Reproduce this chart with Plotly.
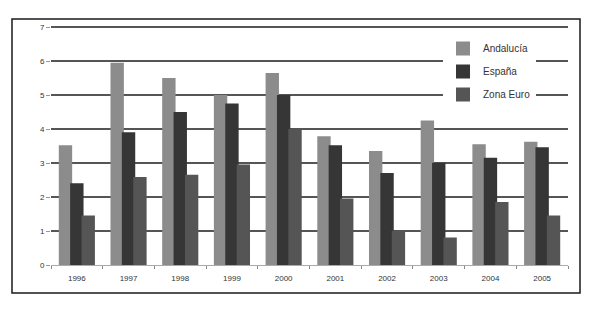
import plotly.graph_objects as go

years = ["1996", "1997", "1998", "1999", "2000", "2001", "2002", "2003", "2004", "2005"]
andalucia = [3.5, 5.93, 5.48, 4.98, 5.63, 3.76, 3.33, 4.23, 3.53, 3.6]
espana = [2.38, 3.88, 4.48, 4.73, 4.98, 3.5, 2.68, 2.98, 3.13, 3.44]
zona_euro = [1.43, 2.56, 2.63, 2.93, 3.98, 1.93, 0.98, 0.78, 1.83, 1.43]
y_ticks = [0, 1, 2, 3, 4, 5, 6, 7]

series = [
    ("Andalucía", andalucia, "#8c8c8c"),
    ("España", espana, "#363636"),
    ("Zona Euro", zona_euro, "#555555"),
]

fig = go.Figure()
for i, (name, vals, col) in enumerate(series):
    fig.add_trace(go.Bar(x=years, y=vals, name=name,
                         marker=dict(color=col, line=dict(width=2, color=col)),
                         legendgroup=f"g{i}"))

L, R, T, B = 51, 32, 24, 47
W, H = 600 - L - R, 312 - T - B

def px(x):
    return (x - L) / W

def py(y):
    return (312 - B - y) / H

fig.update_layout(
    width=600, height=312,
    margin=dict(l=L, r=R, t=T, b=B),
    paper_bgcolor="white", plot_bgcolor="white",
    barmode="group", bargap=0.34, bargroupgap=0,
    font=dict(family="Liberation Sans, Arial, sans-serif", size=8, color="#333333"),
    showlegend=True,
    legend=dict(x=px(443), y=py(34), xanchor="left", yanchor="top",
                bgcolor="white", font=dict(size=10, color="#333333"),
                tracegroupgap=4, traceorder="grouped", itemwidth=30),
    xaxis=dict(type="category", tickson="boundaries", ticks="outside", ticklen=3,
               tickcolor="#888888", showline=True, linecolor="#aaaaaa", linewidth=1,
               showgrid=False, ticklabelstandoff=5, tickfont=dict(size=8, color="#333333")),
    yaxis=dict(range=[0, 7.1], tickvals=y_ticks, showgrid=True, gridcolor="#555555",
               gridwidth=1.5, zeroline=True, zerolinecolor="#aaaaaa", zerolinewidth=1,
               ticks="outside", ticklen=4, tickcolor="#999999", showline=False,
               tickfont=dict(size=8, color="#333333")),
    shapes=[dict(type="rect", xref="paper", yref="paper",
                 x0=px(12), x1=px(580), y0=py(293), y1=py(19),
                 line=dict(color="#1a1a1a", width=1.5), fillcolor="rgba(0,0,0,0)", layer="above")],
)

fig.write_html("out.html")
